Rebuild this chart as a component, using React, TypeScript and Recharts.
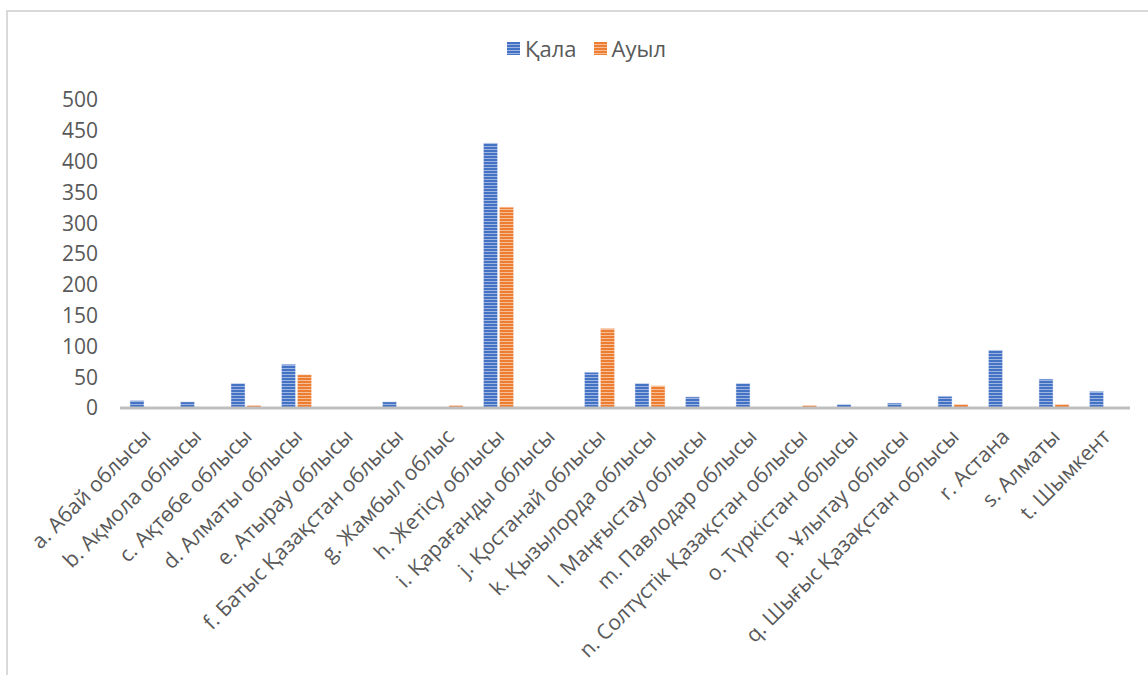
import { BarChart, Bar, XAxis, YAxis, Legend } from "recharts";

const regions = [
  "a. Абай облысы",
  "b. Ақмола облысы",
  "c. Ақтөбе облысы",
  "d. Алматы облысы",
  "e. Атырау облысы",
  "f. Батыс Қазақстан облысы",
  "g. Жамбыл облыс",
  "h. Жетісу облысы",
  "i. Қарағанды облысы",
  "j. Қостанай облысы",
  "k. Қызылорда облысы",
  "l. Маңғыстау облысы",
  "m. Павлодар облысы",
  "n. Солтүстік Қазақстан облысы",
  "o. Түркістан облысы",
  "p. Ұлытау облысы",
  "q. Шығыс Қазақстан облысы",
  "r. Астана",
  "s. Алматы",
  "t. Шымкент",
];

const qala = [12, 10, 40, 71, 0, 10, 1, 430, 0, 58, 40, 18, 40, 0, 6, 8, 19, 94, 47, 27];
const auyl = [0, 0, 4, 54, 0, 1, 4, 326, 0, 129, 36, 0, 0, 4, 0, 0, 6, 0, 6, 0];

const yTicks = [0, 50, 100, 150, 200, 250, 300, 350, 400, 450, 500];

const data = regions.map((name, i) => ({ name, qala: qala[i], auyl: auyl[i] }));

const FONT = "'Open Sans', sans-serif";
const TEXT = "#595959";
const LEGEND_H = 30;

interface TickProps {
  x?: number;
  y?: number;
  payload?: { value: string };
}

function RegionTick({ x = 0, y = 0, payload }: TickProps) {
  if (!payload) return null;
  return (
    <text
      transform={`translate(${x + 7},${y + 22}) rotate(-45)`}
      textAnchor="end"
      fontSize={21}
      fontFamily={FONT}
      fill={TEXT}
    >
      {payload.value}
    </text>
  );
}

function LegendBox() {
  const items = [
    { label: "Қала", fill: "url(#stripeBlue)" },
    { label: "Ауыл", fill: "url(#stripeOrange)" },
  ];
  return (
    <div style={{ display: "flex", gap: 17, height: LEGEND_H, fontFamily: FONT, fontSize: 22, color: TEXT }}>
      {items.map(it => (
        <div key={it.label} style={{ display: "flex", alignItems: "center", gap: 5 }}>
          <svg width={13} height={13}>
            <rect width={13} height={13} fill={it.fill} />
          </svg>
          <span>{it.label}</span>
        </div>
      ))}
    </div>
  );
}

export default function App() {
  return (
    <div style={{ position: "absolute", left: 0, top: 0, width: 1148, height: 675, background: "#fff" }}>
      <div
        style={{
          position: "absolute",
          left: 6,
          top: 10,
          width: 1142,
          height: 665,
          borderTop: "2px solid #D9D9D9",
          borderLeft: "2px solid #D9D9D9",
          boxSizing: "border-box",
        }}
      />
      <div style={{ position: "absolute", left: 0, top: 0 }}>
        <BarChart
          width={1148}
          height={675}
          data={data}
          margin={{ top: 100 - LEGEND_H, right: 18, bottom: 0, left: 0 }}
          barSize={14}
          barGap={2}
        >
          <defs>
            <pattern id="stripeBlue" width={4} height={3} patternUnits="userSpaceOnUse">
              <rect width={4} height={3} fill="#4472C4" />
              <rect y={2} width={4} height={1} fill="#9DB4E0" />
            </pattern>
            <pattern id="stripeOrange" width={4} height={3} patternUnits="userSpaceOnUse">
              <rect width={4} height={3} fill="#ED7D31" />
              <rect y={2} width={4} height={1} fill="#F6BE98" />
            </pattern>
          </defs>
          <YAxis
            width={120}
            domain={[0, 500]}
            ticks={yTicks}
            interval={0}
            axisLine={false}
            tickLine={false}
            tickSize={0}
            tickMargin={22}
            tick={{ fontSize: 21, fontFamily: FONT, fill: TEXT }}
          />
          <XAxis
            dataKey="name"
            interval={0}
            height={267}
            tickLine={false}
            axisLine={{ stroke: "#BFBFBF", strokeWidth: 3 }}
            tick={<RegionTick />}
          />
          <Legend
            verticalAlign="top"
            height={LEGEND_H}
            content={<LegendBox />}
            wrapperStyle={{ position: "absolute", left: 507, top: 33, width: "auto" }}
          />
          <Bar dataKey="qala" name="Қала" fill="url(#stripeBlue)" stroke="#DCE4F3" strokeWidth={0.5} isAnimationActive={false} />
          <Bar dataKey="auyl" name="Ауыл" fill="url(#stripeOrange)" stroke="#FBE1D0" strokeWidth={0.5} isAnimationActive={false} />
        </BarChart>
      </div>
    </div>
  );
}
